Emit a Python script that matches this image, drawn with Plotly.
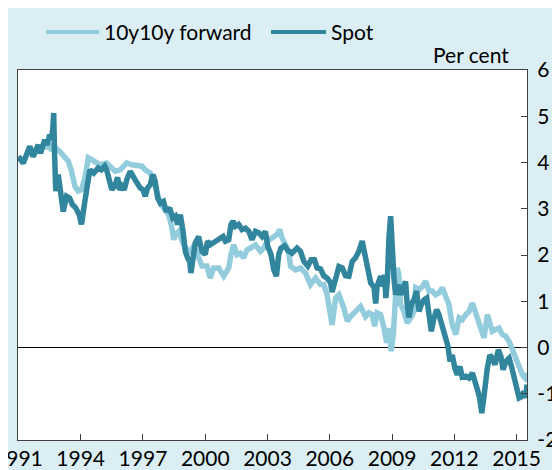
import plotly.graph_objects as go

# ---------------- data ----------------
series_names = ["10y10y forward", "Spot"]

spot_year = [1991.00, 1991.23, 1991.55, 1991.71, 1991.95, 1992.06, 1992.27, 1992.38, 1992.51, 1992.59,
             1992.66, 1992.70, 1992.74, 1992.80, 1992.92, 1993.03, 1993.16, 1993.32, 1993.47, 1993.60,
             1993.76, 1993.93, 1994.04, 1994.20, 1994.31, 1994.44, 1994.63, 1994.84, 1995.00, 1995.16,
             1995.25, 1995.39, 1995.50, 1995.66, 1995.78, 1995.87, 1995.98, 1996.10, 1996.22, 1996.39,
             1996.55, 1996.71, 1996.87, 1997.00, 1997.11, 1997.22, 1997.35, 1997.48, 1997.59, 1997.71,
             1997.84, 1997.99, 1998.12, 1998.28, 1998.44, 1998.56, 1998.67, 1998.80, 1998.93, 1999.04,
             1999.15, 1999.25, 1999.31, 1999.41, 1999.52, 1999.68, 1999.84, 2000.00, 2000.11, 2000.24,
             2000.40, 2000.56, 2000.73, 2000.86, 2000.97, 2001.13, 2001.24, 2001.34, 2001.45, 2001.61,
             2001.77, 2001.94, 2002.10, 2002.25, 2002.42, 2002.58, 2002.74, 2002.90, 2003.01, 2003.17,
             2003.30, 2003.43, 2003.54, 2003.65, 2003.82, 2003.98, 2004.18, 2004.42, 2004.59, 2004.75,
             2004.94, 2005.10, 2005.26, 2005.39, 2005.55, 2005.71, 2005.87, 2006.04, 2006.11, 2006.28,
             2006.44, 2006.60, 2006.76, 2006.92, 2007.08, 2007.24, 2007.40, 2007.56, 2007.68, 2007.84,
             2007.97, 2008.13, 2008.21, 2008.28, 2008.37, 2008.45, 2008.57, 2008.64, 2008.70, 2008.77,
             2008.85, 2008.93, 2008.96, 2009.01, 2009.09, 2009.17, 2009.28, 2009.41, 2009.54, 2009.65,
             2009.73, 2009.81, 2009.93, 2010.05, 2010.18, 2010.30, 2010.41, 2010.54, 2010.67, 2010.78,
             2010.89, 2011.02, 2011.15, 2011.26, 2011.42, 2011.58, 2011.69, 2011.79, 2011.90, 2012.02,
             2012.14, 2012.27, 2012.38, 2012.55, 2012.71, 2012.87, 2013.00, 2013.11, 2013.22, 2013.32,
             2013.40, 2013.48, 2013.59, 2013.71, 2013.83, 2013.96, 2014.12, 2014.24, 2014.35, 2014.48,
             2014.64, 2014.77, 2014.88, 2014.99, 2015.12, 2015.25, 2015.36, 2015.44, 2015.50]
spot_value = [4.13, 3.99, 4.35, 4.13, 4.38, 4.20, 4.49, 4.38, 4.60, 4.49,
              4.75, 5.07, 4.20, 3.38, 3.74, 3.30, 2.94, 3.27, 3.23, 3.09,
              3.02, 2.87, 2.66, 3.16, 3.52, 3.84, 3.77, 3.88, 3.84, 3.92,
              3.84, 3.59, 3.41, 3.52, 3.68, 3.41, 3.49, 3.41, 3.63, 3.81,
              3.66, 3.56, 3.45, 3.41, 3.27, 3.45, 3.52, 3.74, 3.59, 3.23,
              3.12, 3.16, 2.94, 3.02, 2.80, 2.84, 2.66, 2.87, 2.51, 2.08,
              1.94, 1.86, 1.61, 1.90, 2.26, 2.40, 2.08, 2.01, 2.30, 2.22,
              2.26, 2.30, 2.37, 2.40, 2.30, 2.33, 2.66, 2.73, 2.62, 2.66,
              2.55, 2.58, 2.51, 2.33, 2.51, 2.48, 2.40, 2.51, 2.19, 2.01,
              1.68, 1.54, 2.01, 2.15, 2.20, 2.10, 2.04, 2.15, 2.08, 1.86,
              1.76, 1.90, 1.90, 1.72, 1.70, 1.55, 1.50, 1.40, 1.20, 1.50,
              1.75, 1.72, 1.55, 1.54, 1.86, 1.94, 2.08, 2.30, 2.04, 1.72,
              1.40, 1.30, 0.95, 1.32, 1.47, 1.54, 1.32, 1.57, 1.07, 1.43,
              2.37, 2.84, 2.60, 1.86, 1.50, 1.14, 1.36, 1.14, 1.29, 1.43,
              0.93, 0.65, 0.93, 1.03, 1.22, 0.78, 0.93, 1.03, 1.07, 0.71,
              0.35, 0.64, 0.82, 0.71, 0.46, 0.21, 0.03, -0.30, -0.16, -0.44,
              -0.59, -0.41, -0.64, -0.62, -0.66, -0.55, -0.80, -0.91, -1.09, -1.42,
              -1.16, -0.73, -0.44, -0.16, -0.23, -0.37, -0.05, -0.19, -0.48, -0.30,
              -0.23, -0.44, -0.66, -0.88, -1.09, -1.06, -0.95, -1.09, -0.80]

fwd_year = [1991.00, 1991.23, 1991.55, 1991.71, 1991.95, 1992.06, 1992.27, 1992.38, 1992.51, 1992.59,
            1992.70, 1992.80, 1992.99, 1993.23, 1993.40, 1993.56, 1993.72, 1993.88, 1994.04, 1994.20,
            1994.37, 1994.53, 1994.76, 1994.92, 1995.25, 1995.49, 1995.66, 1995.91, 1996.10, 1996.22,
            1996.47, 1996.71, 1996.95, 1997.11, 1997.35, 1997.51, 1997.67, 1997.84, 1997.99, 1998.24,
            1998.40, 1998.48, 1998.56, 1998.72, 1998.96, 1999.12, 1999.28, 1999.44, 1999.60, 1999.68,
            1999.84, 2000.08, 2000.24, 2000.40, 2000.65, 2000.89, 2001.13, 2001.24, 2001.37, 2001.53,
            2001.69, 2001.85, 2002.01, 2002.18, 2002.42, 2002.66, 2002.82, 2002.98, 2003.22, 2003.46,
            2003.59, 2003.70, 2003.87, 2004.02, 2004.11, 2004.35, 2004.59, 2004.83, 2005.07, 2005.31,
            2005.55, 2005.71, 2005.87, 2006.04, 2006.11, 2006.28, 2006.44, 2006.68, 2006.84, 2007.00,
            2007.24, 2007.48, 2007.72, 2007.88, 2008.04, 2008.16, 2008.28, 2008.45, 2008.61, 2008.74,
            2008.85, 2008.96, 2009.06, 2009.17, 2009.25, 2009.33, 2009.41, 2009.57, 2009.73, 2009.90,
            2010.05, 2010.14, 2010.30, 2010.46, 2010.62, 2010.78, 2010.94, 2011.10, 2011.26, 2011.42,
            2011.58, 2011.74, 2011.90, 2012.07, 2012.23, 2012.38, 2012.55, 2012.71, 2012.87, 2013.00,
            2013.11, 2013.27, 2013.43, 2013.59, 2013.71, 2013.83, 2013.99, 2014.15, 2014.31, 2014.48,
            2014.64, 2014.80, 2014.96, 2015.12, 2015.28, 2015.41, 2015.50]
fwd_value = [4.12, 3.98, 4.32, 4.12, 4.35, 4.20, 4.45, 4.30, 4.40, 4.25,
             4.38, 4.31, 4.24, 4.10, 4.03, 3.81, 3.49, 3.38, 3.41, 3.66,
             4.10, 4.06, 3.99, 3.95, 3.99, 3.90, 3.81, 3.84, 3.95, 3.99,
             3.95, 3.92, 3.92, 3.84, 3.77, 3.59, 3.38, 3.12, 3.02, 2.87,
             2.58, 2.33, 2.44, 2.51, 2.22, 2.11, 2.08, 2.19, 2.05, 1.94,
             1.76, 1.76, 1.50, 1.72, 1.72, 1.54, 1.72, 2.01, 2.22, 2.01,
             2.04, 1.94, 2.11, 2.15, 2.22, 2.08, 2.15, 2.30, 2.37, 2.44,
             2.55, 2.37, 2.22, 2.04, 1.76, 1.68, 1.72, 1.61, 1.36, 1.50,
             1.36, 1.36, 1.14, 0.78, 0.49, 1.07, 1.14, 0.85, 0.57, 0.67,
             0.78, 0.89, 0.67, 0.75, 0.71, 0.46, 0.75, 0.71, 0.42, 0.10,
             0.42, -0.08, 0.28, 0.93, 1.72, 1.57, 0.93, 0.78, 0.53, 0.64,
             0.78, 1.29, 1.25, 1.32, 1.43, 1.22, 1.22, 1.14, 1.18, 1.29,
             1.07, 0.93, 0.49, 0.28, 0.64, 0.60, 0.71, 0.78, 0.96, 0.78,
             0.71, 0.42, 0.21, 0.71, 0.57, 0.35, 0.39, 0.42, 0.28, 0.24,
             0.13, -0.05, -0.30, -0.44, -0.59, -0.66, -0.55]

x_tick_values = [1991, 1994, 1997, 2000, 2003, 2006, 2009, 2012, 2015]
x_tick_labels = ["1991", "1994", "1997", "2000", "2003", "2006", "2009", "2012", "2015"]
y_tick_values = [-2, -1, 0, 1, 2, 3, 4, 5, 6]
y_tick_labels = ["-2", "-1", "0", "1", "2", "3", "4", "5", "6"]
unit_label = "Per cent"

# ---------------- style ----------------
FWD_COLOR = "#93CDDD"
SPOT_COLOR = "#31859C"
BG = "#DBEEF4"
FRAME = "#404040"
FONT = "Lato"
FS = 21

W, H = 560, 470
ML, MR, MT, MB = 10, 41, 62, 38
PW, PH = W - ML - MR, H - MT - MB


def px_x(px):
    return (px - ML) / PW


def px_y(py):
    return (H - MB - py) / PH


fig = go.Figure()
fig.add_trace(go.Scatter(x=fwd_year, y=fwd_value, mode="lines", name=series_names[0],
                         line=dict(color=FWD_COLOR, width=5.5), showlegend=False))
fig.add_trace(go.Scatter(x=spot_year, y=spot_value, mode="lines", name=series_names[1],
                         line=dict(color=SPOT_COLOR, width=5.5), showlegend=False))

shapes = []
annotations = []
legend_items = [(series_names[0], FWD_COLOR, 38, 91), (series_names[1], SPOT_COLOR, 263, 318)]
for name, col, x0, x1 in legend_items:
    shapes.append(dict(type="line", xref="paper", yref="paper",
                       x0=px_x(x0), x1=px_x(x1), y0=px_y(24), y1=px_y(24),
                       line=dict(color=col, width=4)))
    annotations.append(dict(xref="paper", yref="paper", x=px_x(x1 + 3), y=px_y(24),
                            xanchor="left", yanchor="middle", showarrow=False, text=name,
                            font=dict(family=FONT, size=FS, color="black")))
annotations.append(dict(xref="paper", yref="paper", x=px_x(503), y=px_y(47),
                        xanchor="right", yanchor="middle", showarrow=False, text=unit_label,
                        font=dict(family=FONT, size=FS, color="black")))

fig.update_layout(
    width=W, height=H, autosize=False,
    margin=dict(l=ML, r=MR, t=MT, b=MB, pad=0, autoexpand=False),
    paper_bgcolor=BG, plot_bgcolor="white",
    font=dict(family=FONT, size=FS, color="black"),
    shapes=shapes, annotations=annotations,
    xaxis=dict(range=[1990.98, 2015.5], tickmode="array", tickvals=x_tick_values,
               ticktext=x_tick_labels, ticks="inside", ticklen=6, tickcolor=FRAME,
               showline=True, linecolor=FRAME, linewidth=1.3, mirror=True,
               showgrid=False, zeroline=False, ticklabeloverflow="allow", automargin=False,
               tickfont=dict(family=FONT, size=FS)),
    yaxis=dict(range=[-2, 6], side="right", tickmode="array", tickvals=y_tick_values,
               ticktext=y_tick_labels, ticks="inside", ticklen=6, tickcolor=FRAME,
               showline=True, linecolor=FRAME, linewidth=1.3, mirror=True,
               showgrid=False, zeroline=True, zerolinecolor="black", zerolinewidth=1.2,
               ticklabelstandoff=5, ticklabeloverflow="allow", automargin=False,
               tickfont=dict(family=FONT, size=FS)),
)

fig.write_html("out.html")
